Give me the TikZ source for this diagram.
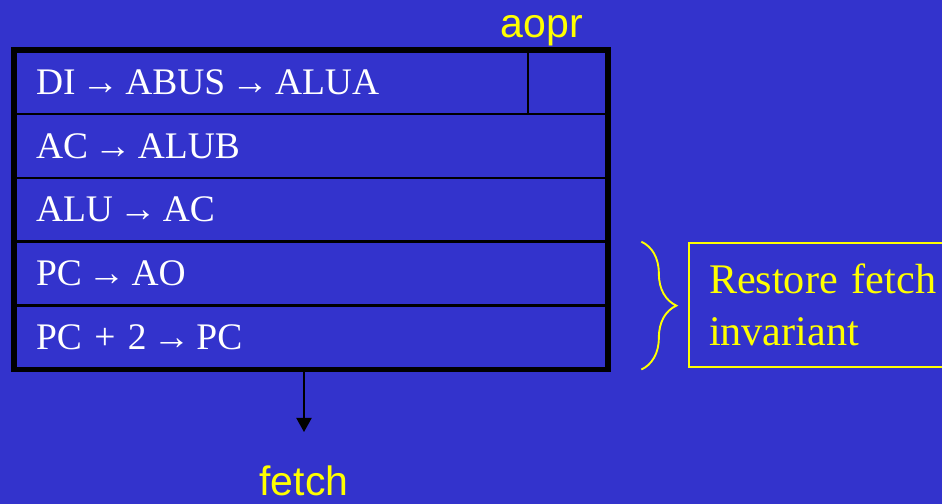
\documentclass[tikz,border=0pt]{standalone}
\usepackage{fontspec}
\setmainfont{Liberation Serif}
\setsansfont{Liberation Sans}
\usetikzlibrary{positioning}
\usetikzlibrary{fit}
\usetikzlibrary{arrows.meta}
\usetikzlibrary{decorations.pathreplacing}
\definecolor{slide}{RGB}{51,51,204}
\definecolor{hilite}{RGB}{255,255,0}
\newcommand{\toarrow}{\hspace{-0.17em}→\hspace{-0.17em}}

\begin{document}
\begin{tikzpicture}[
    x=0.03cm, y=-0.03cm,
    row/.style={draw=black, line width=2.1pt, outer sep=0pt, anchor=north west,
        minimum height=1.917cm, inner xsep=0.66cm, text width=16.5cm, align=left,
        text=white, font=\fontsize{32}{38}\selectfont},
    frame/.style={draw=black, line width=4.5pt, inner sep=0pt},
    tag/.style={text=hilite, inner sep=0pt, font=\sffamily\fontsize{35}{42}\selectfont},
    note/.style={draw=hilite, line width=1.7pt, anchor=north west, minimum height=3.72cm,
        inner xsep=0.6cm, text width=6.9cm, align=left, text=hilite,
        font=\fontsize{36}{44}\selectfont},
    brace/.style={draw=hilite, line width=1.6pt, decorate,
        decoration={brace, amplitude=1.05cm}},
    >={Triangle[length=12pt, width=13pt]}
]
    \useasboundingbox (0,0) rectangle (942,504);
    \fill[slide] (0,0) rectangle (942,504);

    \node[row] (r1) at (14,50) {DI \toarrow{} ABUS \toarrow{} ALUA};
    \node[row, below=0pt of r1] (r2) {AC \toarrow{} ALUB};
    \node[row, below=0pt of r2] (r3) {ALU \toarrow{} AC};
    \node[row, below=0pt of r3] (r4) {PC \toarrow{} AO};
    \node[row, below=0pt of r4] (r5) {PC + 2 \toarrow{} PC};
    \node[frame, fit=(r1)(r5)] (box) {};
    \draw[line width=2.1pt] ([xshift=-2.4cm]r1.north east) -- ([xshift=-2.4cm]r1.south east);

    \node[tag, anchor=base] (aopr) at (542,37) {aopr};
    \node[tag, anchor=base] (fetch) at (304,495) {fetch};
    \coordinate (drop) at (304,432);
    \draw[->, line width=1.2pt] (box.south -| drop) -- (drop);

    \draw[brace] ([xshift=1cm]r4.north east) -- ([xshift=1cm]r5.south east);
    \node[note] (inv) at (688,242) {Restore fetch\\invariant};
\end{tikzpicture}
\end{document}
